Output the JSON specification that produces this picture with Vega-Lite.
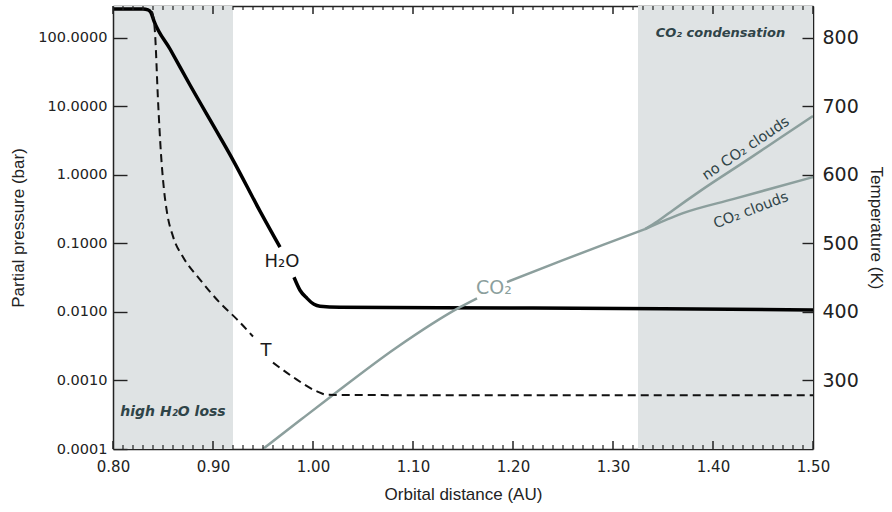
{
  "$schema": "https://vega.github.io/schema/vega-lite/v6.json",
  "width": 700,
  "height": 443,
  "autosize": "none",
  "padding": {"left": 113, "top": 6, "right": 79, "bottom": 63},
  "background": "white",
  "config": {
    "view": {"stroke": null},
    "axis": {"grid": false, "zindex": 2, "domainColor": "#222", "domainWidth": 1.5, "gridColor": "#222", "gridOpacity": 1, "gridWidth": 1.4, "labelColor": "#222", "titleColor": "#222", "titleFontWeight": "normal", "labelFont": "DejaVu Sans", "titleFont": "Liberation Sans"}
  },
  "datasets": {
    "shade": [{"x1": 0.8, "x2": 0.92, "zone": "high H2O loss"}, {"x1": 1.325, "x2": 1.5, "zone": "CO2 condensation"}],
    "xticks": [
      {"x": 0.80, "kind": "major"}, {"x": 0.81, "kind": "minor"}, {"x": 0.82, "kind": "minor"}, {"x": 0.83, "kind": "minor"}, {"x": 0.84, "kind": "minor"}, {"x": 0.85, "kind": "minor"}, {"x": 0.86, "kind": "minor"}, {"x": 0.87, "kind": "minor"}, {"x": 0.88, "kind": "minor"}, {"x": 0.89, "kind": "minor"},
      {"x": 0.90, "kind": "major"}, {"x": 0.91, "kind": "minor"}, {"x": 0.92, "kind": "minor"}, {"x": 0.93, "kind": "minor"}, {"x": 0.94, "kind": "minor"}, {"x": 0.95, "kind": "minor"}, {"x": 0.96, "kind": "minor"}, {"x": 0.97, "kind": "minor"}, {"x": 0.98, "kind": "minor"}, {"x": 0.99, "kind": "minor"},
      {"x": 1.00, "kind": "major"}, {"x": 1.01, "kind": "minor"}, {"x": 1.02, "kind": "minor"}, {"x": 1.03, "kind": "minor"}, {"x": 1.04, "kind": "minor"}, {"x": 1.05, "kind": "minor"}, {"x": 1.06, "kind": "minor"}, {"x": 1.07, "kind": "minor"}, {"x": 1.08, "kind": "minor"}, {"x": 1.09, "kind": "minor"},
      {"x": 1.10, "kind": "major"}, {"x": 1.11, "kind": "minor"}, {"x": 1.12, "kind": "minor"}, {"x": 1.13, "kind": "minor"}, {"x": 1.14, "kind": "minor"}, {"x": 1.15, "kind": "minor"}, {"x": 1.16, "kind": "minor"}, {"x": 1.17, "kind": "minor"}, {"x": 1.18, "kind": "minor"}, {"x": 1.19, "kind": "minor"},
      {"x": 1.20, "kind": "major"}, {"x": 1.21, "kind": "minor"}, {"x": 1.22, "kind": "minor"}, {"x": 1.23, "kind": "minor"}, {"x": 1.24, "kind": "minor"}, {"x": 1.25, "kind": "minor"}, {"x": 1.26, "kind": "minor"}, {"x": 1.27, "kind": "minor"}, {"x": 1.28, "kind": "minor"}, {"x": 1.29, "kind": "minor"},
      {"x": 1.30, "kind": "major"}, {"x": 1.31, "kind": "minor"}, {"x": 1.32, "kind": "minor"}, {"x": 1.33, "kind": "minor"}, {"x": 1.34, "kind": "minor"}, {"x": 1.35, "kind": "minor"}, {"x": 1.36, "kind": "minor"}, {"x": 1.37, "kind": "minor"}, {"x": 1.38, "kind": "minor"}, {"x": 1.39, "kind": "minor"},
      {"x": 1.40, "kind": "major"}, {"x": 1.41, "kind": "minor"}, {"x": 1.42, "kind": "minor"}, {"x": 1.43, "kind": "minor"}, {"x": 1.44, "kind": "minor"}, {"x": 1.45, "kind": "minor"}, {"x": 1.46, "kind": "minor"}, {"x": 1.47, "kind": "minor"}, {"x": 1.48, "kind": "minor"}, {"x": 1.49, "kind": "minor"},
      {"x": 1.50, "kind": "major"}
    ],
    "h2o": [
      {"x": 0.800, "p": 263, "seg": "a"}, {"x": 0.830, "p": 262, "seg": "a"}, {"x": 0.835, "p": 255, "seg": "a"}, {"x": 0.838, "p": 232, "seg": "a"},
      {"x": 0.841, "p": 175, "seg": "a"}, {"x": 0.857, "p": 68.4, "seg": "a"}, {"x": 0.877, "p": 20.4, "seg": "a"}, {"x": 0.907, "p": 3.55, "seg": "a"},
      {"x": 0.920, "p": 1.64, "seg": "a"}, {"x": 0.947, "p": 0.295, "seg": "a"}, {"x": 0.967, "p": 0.0879, "seg": "a"},
      {"x": 0.981, "p": 0.032, "seg": "b"}, {"x": 0.987, "p": 0.0207, "seg": "b"}, {"x": 0.994, "p": 0.0158, "seg": "b"}, {"x": 1.001, "p": 0.0129, "seg": "b"},
      {"x": 1.007, "p": 0.0121, "seg": "b"}, {"x": 1.027, "p": 0.0117, "seg": "b"}, {"x": 1.2, "p": 0.0114, "seg": "b"}, {"x": 1.35, "p": 0.0111, "seg": "b"}, {"x": 1.5, "p": 0.0107, "seg": "b"}
    ],
    "co2": [
      {"x": 0.950, "p": 0.0001, "seg": "base1"}, {"x": 0.987, "p": 0.000262, "seg": "base1"}, {"x": 1.017, "p": 0.000569, "seg": "base1"},
      {"x": 1.084, "p": 0.00305, "seg": "base1"}, {"x": 1.147, "p": 0.01172, "seg": "base1"}, {"x": 1.164, "p": 0.0158, "seg": "base1"},
      {"x": 1.194, "p": 0.0272, "seg": "base2"}, {"x": 1.250, "p": 0.0569, "seg": "base2"}, {"x": 1.290, "p": 0.095, "seg": "base2"}, {"x": 1.332, "p": 0.161, "seg": "base2"},
      {"x": 1.332, "p": 0.161, "seg": "no clouds"}, {"x": 1.345, "p": 0.211, "seg": "no clouds"}, {"x": 1.360, "p": 0.305, "seg": "no clouds"}, {"x": 1.387, "p": 0.578, "seg": "no clouds"}, {"x": 1.437, "p": 1.75, "seg": "no clouds"}, {"x": 1.467, "p": 3.44, "seg": "no clouds"}, {"x": 1.5, "p": 7.2, "seg": "no clouds"},
      {"x": 1.332, "p": 0.161, "seg": "clouds"}, {"x": 1.370, "p": 0.276, "seg": "clouds"}, {"x": 1.420, "p": 0.442, "seg": "clouds"}, {"x": 1.5, "p": 0.925, "seg": "clouds"}
    ],
    "temp": [
      {"x": 0.839, "t": 838, "seg": "a"}, {"x": 0.842, "t": 807, "seg": "a"}, {"x": 0.845, "t": 709, "seg": "a"}, {"x": 0.848, "t": 630, "seg": "a"},
      {"x": 0.851, "t": 578, "seg": "a"}, {"x": 0.854, "t": 545, "seg": "a"}, {"x": 0.860, "t": 510, "seg": "a"}, {"x": 0.870, "t": 480, "seg": "a"},
      {"x": 0.887, "t": 447, "seg": "a"}, {"x": 0.907, "t": 413, "seg": "a"}, {"x": 0.924, "t": 389, "seg": "a"}, {"x": 0.940, "t": 364, "seg": "a"},
      {"x": 0.960, "t": 326, "seg": "b"}, {"x": 0.980, "t": 305, "seg": "b"}, {"x": 1.004, "t": 284, "seg": "b"}, {"x": 1.014, "t": 279, "seg": "b"},
      {"x": 1.1, "t": 278.5, "seg": "b"}, {"x": 1.3, "t": 278.5, "seg": "b"}, {"x": 1.5, "t": 278.5, "seg": "b"}
    ],
    "lossLabel": [{"x": 0.860, "p": 0.000344, "label": "high H₂O loss"}],
    "condLabel": [{"x": 1.4075, "p": 117, "label": "CO₂ condensation"}],
    "curveLabels": [{"x": 0.969, "p": 0.0531, "label": "H₂O"}, {"x": 0.953, "p": 0.00267, "label": "T"}],
    "co2Label": [{"x": 1.181, "p": 0.0222, "label": "CO₂"}],
    "noCloudLabel": [{"x": 1.433, "p": 2.4, "label": "no CO₂ clouds"}],
    "cloudLabel": [{"x": 1.438, "p": 0.3, "label": "CO₂ clouds"}]
  },
  "resolve": {"scale": {"y": "independent"}, "axis": {"x": "independent", "y": "independent"}},
  "layer": [
    {
      "resolve": {"axis": {"x": "independent", "y": "independent"}},
      "layer": [
        {
          "data": {"name": "shade"},
          "mark": {"type": "rect", "color": "#dfe3e4"},
          "encoding": {
            "x": {
              "field": "x1", "type": "quantitative",
              "scale": {"domain": [0.8, 1.5], "nice": false, "zero": false},
              "axis": {
                "orient": "bottom", "title": "Orbital distance (AU)", "titleFontSize": 17, "titlePadding": 12,
                "values": [0.8, 0.9, 1.0, 1.1, 1.2, 1.3, 1.4, 1.5], "format": ".2f",
                "ticks": false, "tickSize": 0, "labelPadding": 10, "labelFontSize": 15, "labelFlush": false
              }
            },
            "x2": {"field": "x2"}
          }
        },
        {
          "data": {"name": "h2o"},
          "mark": {"type": "line", "color": "#000", "strokeWidth": 3.5, "clip": true, "interpolate": "monotone"},
          "encoding": {
            "x": {"field": "x", "type": "quantitative", "axis": null},
            "y": {
              "field": "p", "type": "quantitative",
              "scale": {"type": "log", "domain": [0.0001, 290], "nice": false},
              "axis": {"orient": "left", "title": "Partial pressure (bar)", "titleFontSize": 17, "titlePadding": 10, "values": [0.0001, 0.001, 0.01, 0.1, 1, 10, 100], "format": ".4f", "ticks": false, "tickSize": 0, "labelPadding": 6, "labelFontSize": 14.5,
                "grid": true, "gridDash": [14, 3000], "zindex": 2}
            },
            "detail": {"field": "seg"}
          }
        },
        {
          "data": {"name": "co2"},
          "mark": {"type": "line", "color": "#8c9f9d", "strokeWidth": 2.5, "clip": true, "interpolate": "monotone"},
          "encoding": {
            "x": {"field": "x", "type": "quantitative", "axis": null},
            "y": {
              "field": "p", "type": "quantitative",
              "axis": {"orient": "right", "title": null, "labels": false, "domain": false, "ticks": false, "grid": true, "gridDash": [11, 3000], "zindex": 2, "values": [0.001, 0.01, 0.1, 1, 10, 100]}
            },
            "detail": {"field": "seg"}
          }
        },
        {
          "data": {"name": "lossLabel"},
          "mark": {"type": "text", "font": "DejaVu Sans", "fontStyle": "italic", "fontWeight": "bold", "fontSize": 14, "color": "#2f4448", "align": "center", "baseline": "middle"},
          "encoding": {"x": {"field": "x", "type": "quantitative", "axis": null}, "y": {"field": "p", "type": "quantitative", "axis": null}, "text": {"field": "label"}}
        },
        {
          "data": {"name": "condLabel"},
          "mark": {"type": "text", "font": "DejaVu Sans", "fontStyle": "italic", "fontWeight": "bold", "fontSize": 13, "color": "#2f4448", "align": "center", "baseline": "middle"},
          "encoding": {"x": {"field": "x", "type": "quantitative", "axis": null}, "y": {"field": "p", "type": "quantitative", "axis": null}, "text": {"field": "label"}}
        },
        {
          "data": {"name": "curveLabels"},
          "mark": {"type": "text", "font": "DejaVu Sans", "fontSize": 18, "color": "#1a1a1a", "align": "center", "baseline": "middle"},
          "encoding": {"x": {"field": "x", "type": "quantitative", "axis": null}, "y": {"field": "p", "type": "quantitative", "axis": null}, "text": {"field": "label"}}
        },
        {
          "data": {"name": "co2Label"},
          "mark": {"type": "text", "font": "DejaVu Sans", "fontSize": 19, "color": "#8c9f9d", "align": "center", "baseline": "middle"},
          "encoding": {"x": {"field": "x", "type": "quantitative", "axis": null}, "y": {"field": "p", "type": "quantitative", "axis": null}, "text": {"field": "label"}}
        },
        {
          "data": {"name": "noCloudLabel"},
          "mark": {"type": "text", "font": "DejaVu Sans", "fontSize": 14.5, "color": "#2f4448", "align": "center", "baseline": "middle", "angle": -34},
          "encoding": {"x": {"field": "x", "type": "quantitative", "axis": null}, "y": {"field": "p", "type": "quantitative", "axis": null}, "text": {"field": "label"}}
        },
        {
          "data": {"name": "cloudLabel"},
          "mark": {"type": "text", "font": "DejaVu Sans", "fontSize": 14.5, "color": "#2f4448", "align": "center", "baseline": "middle", "angle": -21},
          "encoding": {"x": {"field": "x", "type": "quantitative", "axis": null}, "y": {"field": "p", "type": "quantitative", "axis": null}, "text": {"field": "label"}}
        }
      ]
    },
    {
      "data": {"name": "temp"},
      "mark": {"type": "line", "color": "#111", "strokeWidth": 2, "strokeDash": [8, 5], "clip": true, "interpolate": "monotone"},
      "encoding": {
        "x": {
          "field": "x", "type": "quantitative",
          "axis": {"orient": "top", "title": null, "labels": false, "ticks": false, "tickSize": 0, "domain": true}
        },
        "y": {
          "field": "t", "type": "quantitative",
          "scale": {"domain": [200, 846], "nice": false, "zero": false},
          "axis": {"orient": "right", "title": "Temperature (K)", "titleFontSize": 17, "titlePadding": 8, "values": [300, 400, 500, 600, 700, 800], "ticks": false, "tickSize": 0, "labelPadding": 9, "labelFontSize": 19}
        },
        "detail": {"field": "seg"}
      }
    },
    {
      "data": {"name": "xticks"},
      "transform": [{"filter": "datum.kind === 'major'"}],
      "mark": {"type": "rule", "color": "#222", "strokeWidth": 1.5},
      "encoding": {
        "x": {"field": "x", "type": "quantitative", "axis": null},
        "y": {"datum": 0.0001, "type": "quantitative", "scale": {"type": "log", "domain": [0.0001, 290], "nice": false}, "axis": null},
        "y2": {"datum": 0.000131}
      }
    },
    {
      "data": {"name": "xticks"},
      "transform": [{"filter": "datum.kind === 'minor'"}],
      "mark": {"type": "rule", "color": "#222", "strokeWidth": 1.2},
      "encoding": {
        "x": {"field": "x", "type": "quantitative", "axis": null},
        "y": {"datum": 0.0001, "type": "quantitative", "scale": {"type": "log", "domain": [0.0001, 290], "nice": false}, "axis": null},
        "y2": {"datum": 0.000114}
      }
    },
    {
      "data": {"name": "xticks"},
      "transform": [{"filter": "datum.kind === 'major'"}],
      "mark": {"type": "rule", "color": "#222", "strokeWidth": 1.5},
      "encoding": {
        "x": {"field": "x", "type": "quantitative", "axis": null},
        "y": {"datum": 290, "type": "quantitative", "scale": {"type": "log", "domain": [0.0001, 290], "nice": false}, "axis": null},
        "y2": {"datum": 221.5}
      }
    },
    {
      "data": {"name": "xticks"},
      "transform": [{"filter": "datum.kind === 'minor'"}],
      "mark": {"type": "rule", "color": "#222", "strokeWidth": 1.2},
      "encoding": {
        "x": {"field": "x", "type": "quantitative", "axis": null},
        "y": {"datum": 290, "type": "quantitative", "scale": {"type": "log", "domain": [0.0001, 290], "nice": false}, "axis": null},
        "y2": {"datum": 253.5}
      }
    }
  ]
}
